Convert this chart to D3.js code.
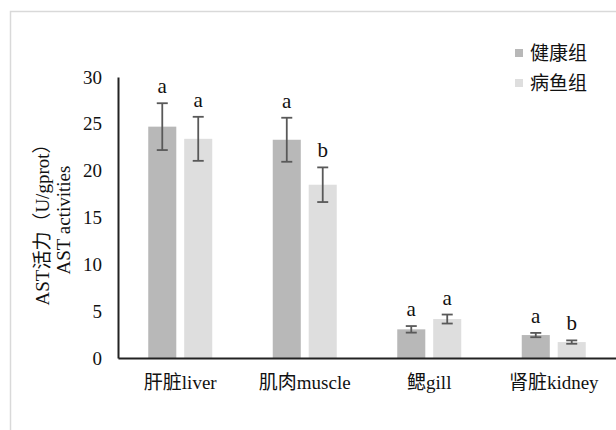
<!DOCTYPE html>
<html><head><meta charset="utf-8">
<script src="https://cdn.jsdelivr.net/npm/d3@7/dist/d3.min.js"></script>
<style>body{margin:0;background:#fff}svg{display:block}</style>
</head><body><svg id="c" width="616" height="430"></svg>
<script>
const categories = ["肝脏liver", "肌肉muscle", "鳃gill", "肾脏kidney"];
const seriesNames = ["健康组", "病鱼组"];
const healthy = [24.7, 23.3, 3.06, 2.45];
const diseased = [23.4, 18.5, 4.16, 1.7];
const healthyErr = [2.5, 2.35, 0.35, 0.23];
const diseasedErr = [2.35, 1.85, 0.48, 0.18];
const healthyLetters = ["a", "a", "a", "a"];
const diseasedLetters = ["a", "b", "a", "b"];
const yTicks = [0, 5, 10, 15, 20, 25, 30];
const colors = ["#b8b8b8", "#dedede"];

const font = "'Liberation Serif','Noto Sans CJK SC',serif";
const svg = d3.select("#c");
svg.append("rect").attr("x",10.5).attr("y",11.5).attr("width",620).attr("height",430)
  .attr("fill","none").attr("stroke","#d9d9d9").attr("stroke-width",1.5);

const x = d3.scaleBand().domain(categories).range([118, 616]);
const inner = d3.scaleBand().domain([0,1]).range([0, 64]).paddingInner(0.22);
const y = d3.scaleLinear().domain([0, 30]).range([358, 77]);

const data = categories.map((c,i)=>[
  {c, s:0, v:healthy[i], e:healthyErr[i], l:healthyLetters[i]},
  {c, s:1, v:diseased[i], e:diseasedErr[i], l:diseasedLetters[i]}
]).flat();

const gx = c => x(c) + x.bandwidth()/2 - 32;

svg.selectAll("rect.bar").data(data).join("rect").attr("class","bar")
  .attr("x", d=>gx(d.c)+inner(d.s)).attr("width", inner.bandwidth())
  .attr("y", d=>y(d.v)).attr("height", d=>y(0)-y(d.v))
  .attr("fill", d=>colors[d.s]);

const eb = svg.append("g").attr("stroke","#595959").attr("stroke-width",1.8).attr("fill","none");
data.forEach(d=>{
  const cx = gx(d.c)+inner(d.s)+inner.bandwidth()/2;
  eb.append("line").attr("x1",cx).attr("x2",cx).attr("y1",y(d.v+d.e)).attr("y2",y(d.v-d.e));
  eb.append("line").attr("x1",cx-5.5).attr("x2",cx+5.5).attr("y1",y(d.v+d.e)).attr("y2",y(d.v+d.e));
  eb.append("line").attr("x1",cx-5.5).attr("x2",cx+5.5).attr("y1",y(d.v-d.e)).attr("y2",y(d.v-d.e));
});

svg.selectAll("text.let").data(data).join("text").attr("class","let")
  .attr("x", d=>gx(d.c)+inner(d.s)+inner.bandwidth()/2)
  .attr("y", d=>y(d.v+d.e)-10)
  .attr("text-anchor","middle").attr("font-family",font).attr("font-size",21).attr("fill","#111")
  .text(d=>d.l);

// axes
const ya = svg.append("g").attr("transform","translate(118,0)")
  .call(d3.axisLeft(y).tickValues(yTicks).tickSize(0).tickPadding(16));
ya.select(".domain").attr("stroke","#222").attr("stroke-width",2);
ya.selectAll("text").attr("font-family",font).attr("font-size",19).attr("fill","#111");

const xa = svg.append("g").attr("transform","translate(0,358)")
  .call(d3.axisBottom(x).tickSize(0).tickPadding(18));
xa.select(".domain").attr("stroke","#222").attr("stroke-width",2);
xa.selectAll("text").attr("font-family",font).attr("font-size",19).attr("fill","#111");

// y title
const t = svg.append("text").attr("transform","translate(0,220) rotate(-90)")
  .attr("text-anchor","middle").attr("font-family",font).attr("font-size",19).attr("fill","#111");
t.append("tspan").attr("x",0).attr("y",49).text("AST活力（U/gprot）");
t.append("tspan").attr("x",0).attr("y",70).text("AST activities");

// legend
const lg = svg.append("g");
seriesNames.forEach((n,i)=>{
  lg.append("rect").attr("x",515).attr("y",49+i*30).attr("width",8).attr("height",8).attr("fill",colors[i]);
  lg.append("text").attr("x",530).attr("y",53+i*30).attr("dy","0.35em")
    .attr("font-family",font).attr("font-size",19).attr("fill","#111").text(n);
});
</script></body></html>
